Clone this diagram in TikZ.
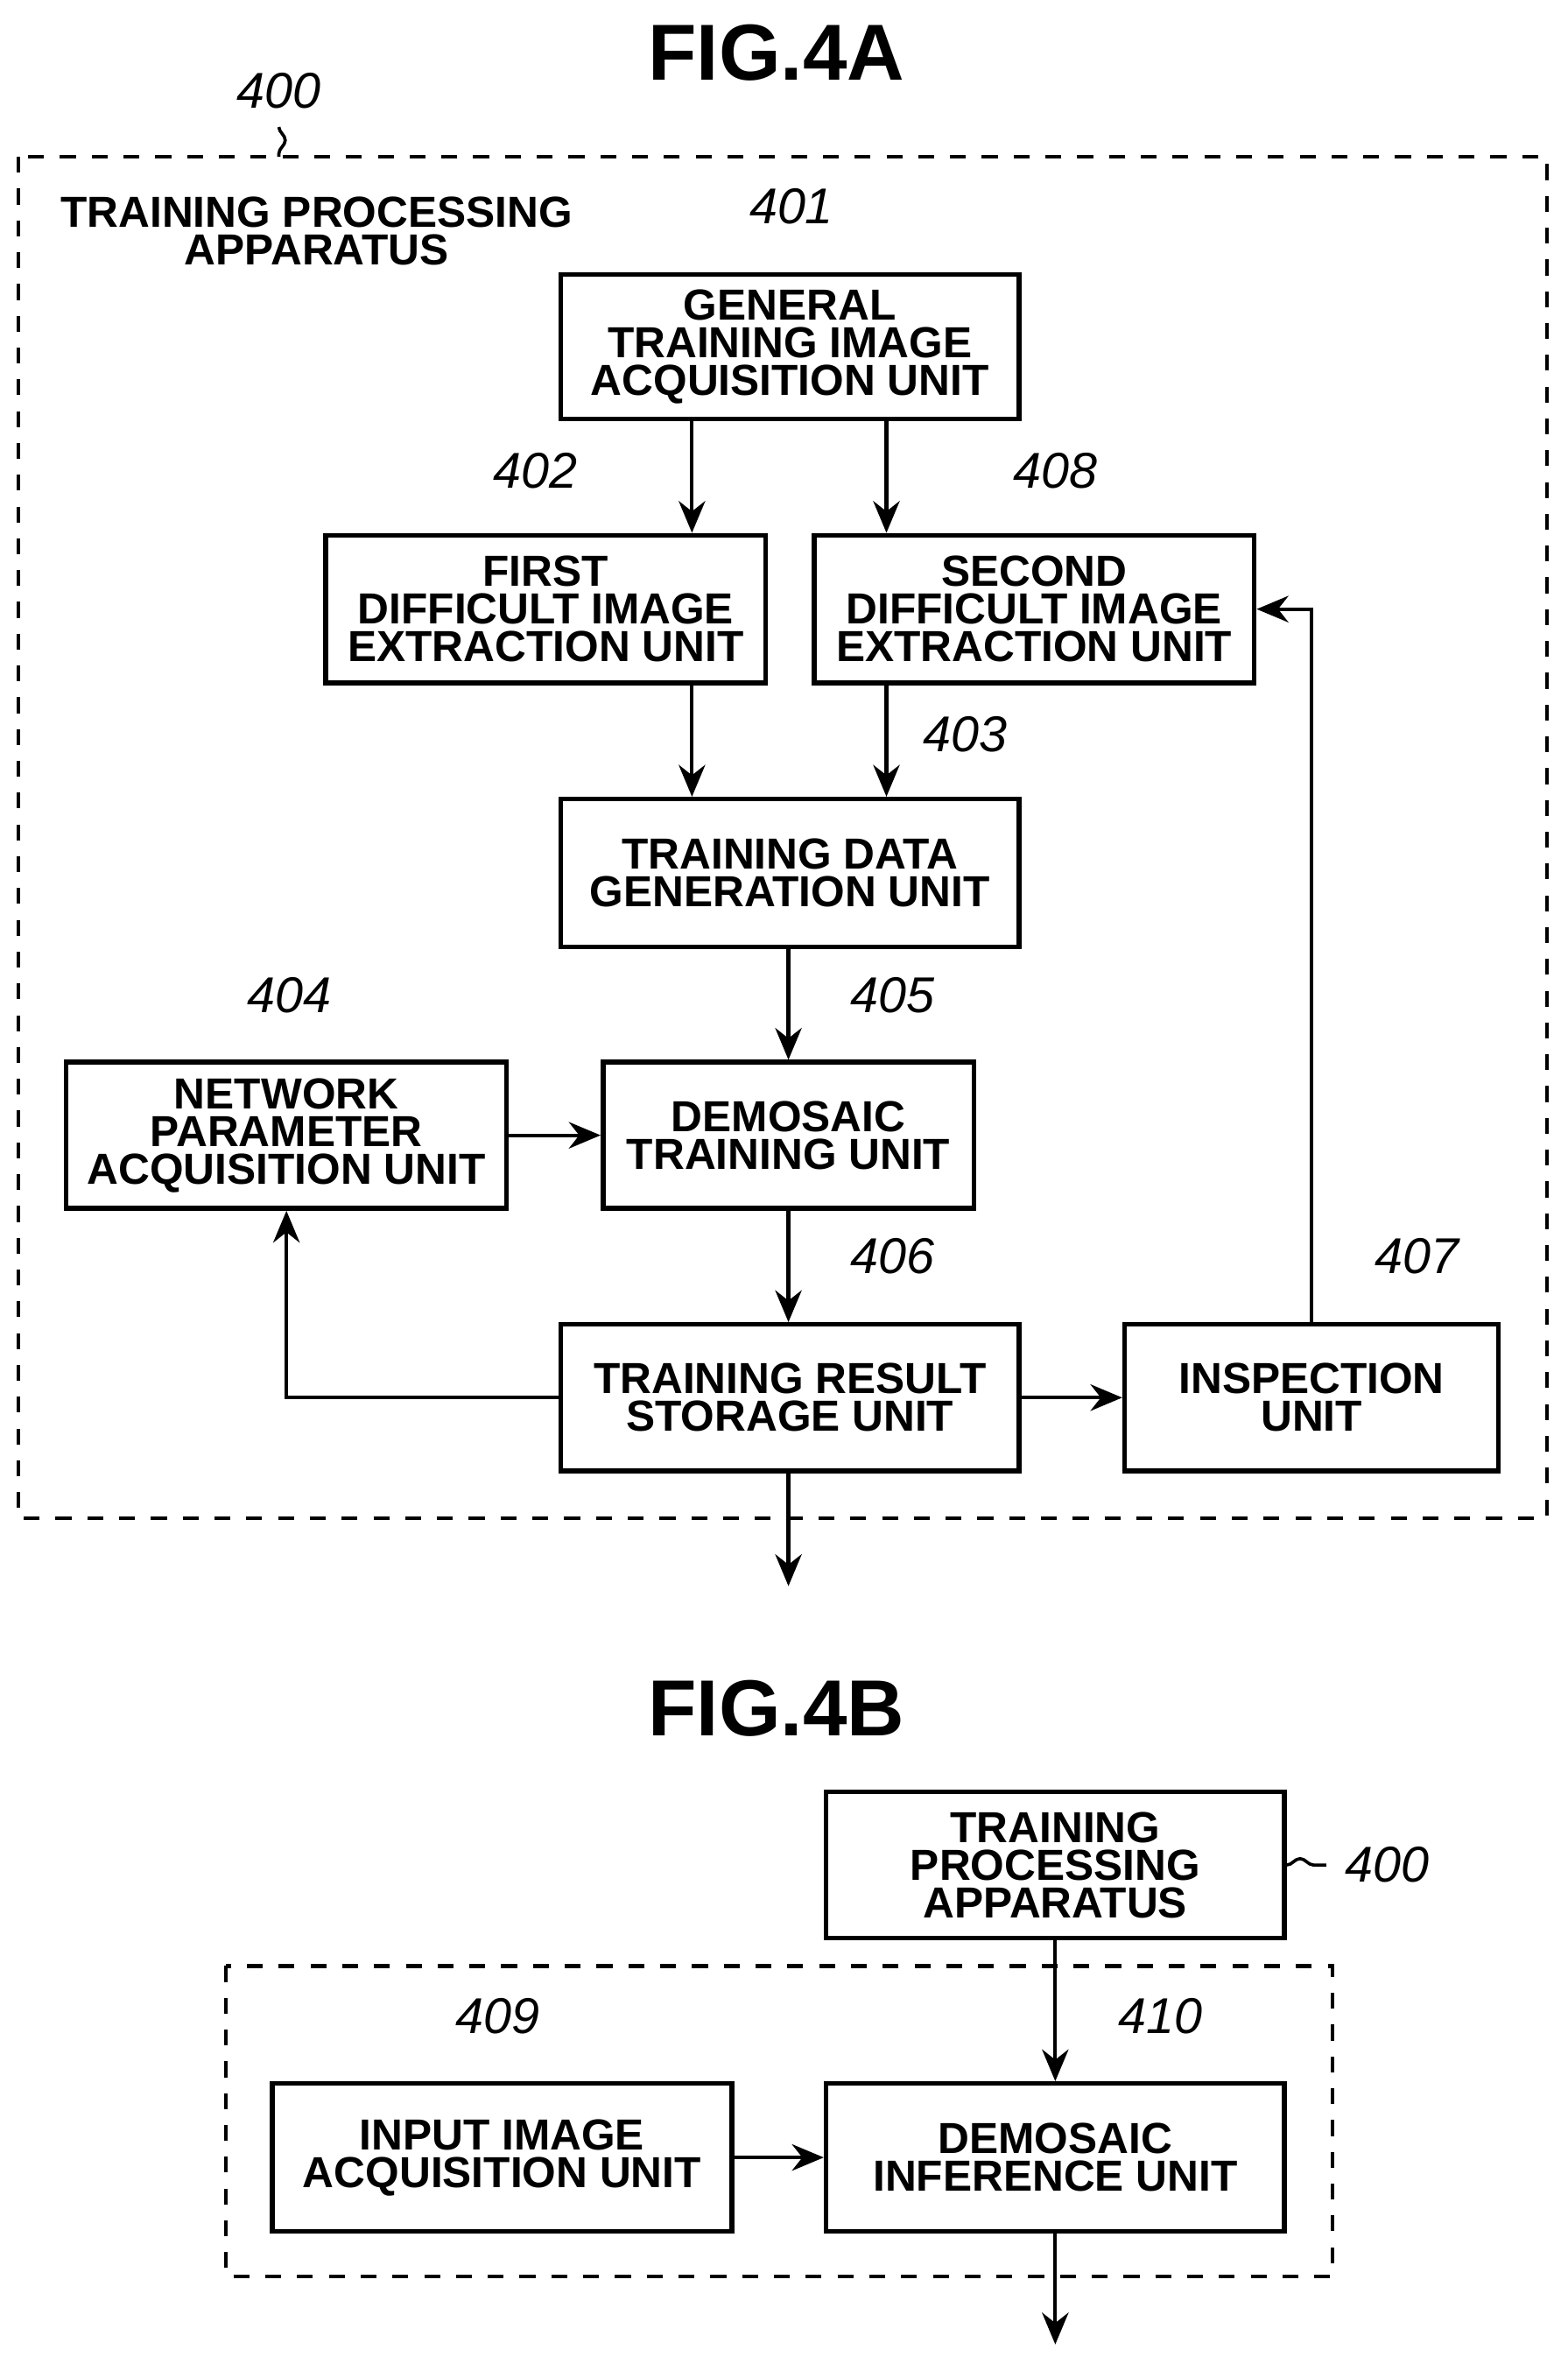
\documentclass[tikz,border=0pt]{standalone}
\usepackage{fontspec}
\setmainfont{Liberation Sans}
\usetikzlibrary{arrows.meta,decorations.pathmorphing}
\tikzset{
  unit/.style={draw,line width=0.9pt,font=\bfseries\fontsize{8.2}{7.1}\selectfont,align=center,inner sep=0pt},
  frame/.style={draw,dashed,line width=0.7pt},
  ref/.style={font=\itshape\fontsize{9.5}{10}\selectfont},
  fig/.style={font=\bfseries\fontsize{15}{16}\selectfont},
  flow/.style={-{Stealth[length=6pt,width=5pt]},line width=0.7pt},
  squig/.style={line width=0.6pt,decorate,decoration={snake,amplitude=1.2pt,segment length=8pt}},
}
\begin{document}
\begin{tikzpicture}[x=0.1mm,y=-0.1mm]
\useasboundingbox (0,0) rectangle (1040,1568);
% FIG.4A
\node[fig] (fa) at (515,35) {FIG.4A};
\draw[frame] (12,104) rectangle (1026,1007);
\node[ref] (r400) at (185,60) {400};
\coordinate (f400) at (185,104);
\draw[squig] (r400.south) -- (f400);
\node[font=\bfseries\fontsize{8.2}{7.1}\selectfont,align=center] (tpa) at (210,153) {TRAINING PROCESSING\\APPARATUS};
\node[unit,minimum width=30.4mm,minimum height=9.6mm] (u401) at (524,230) {GENERAL\\TRAINING IMAGE\\ACQUISITION UNIT};
\node[unit,minimum width=29.2mm,minimum height=9.8mm] (u402) at (362,404) {FIRST\\DIFFICULT IMAGE\\EXTRACTION UNIT};
\node[unit,minimum width=29.2mm,minimum height=9.8mm] (u408) at (686,404) {SECOND\\DIFFICULT IMAGE\\EXTRACTION UNIT};
\node[unit,minimum width=30.4mm,minimum height=9.8mm] (u403) at (524,579) {TRAINING DATA\\GENERATION UNIT};
\node[unit,minimum width=29.2mm,minimum height=9.7mm] (u404) at (190,753) {NETWORK\\PARAMETER\\ACQUISITION UNIT};
\node[unit,minimum width=24.6mm,minimum height=9.7mm] (u405) at (523,753) {DEMOSAIC\\TRAINING UNIT};
\node[unit,minimum width=30.4mm,minimum height=9.7mm] (u406) at (524,927) {TRAINING RESULT\\STORAGE UNIT};
\node[unit,minimum width=24.8mm,minimum height=9.7mm] (u407) at (870,927) {INSPECTION\\UNIT};
\node[ref] at (525,137) {401};
\node[ref] at (355,312) {402};
\node[ref] at (700,312) {408};
\node[ref] at (640,487) {403};
\node[ref] at (192,660) {404};
\node[ref] at (592,660) {405};
\node[ref] at (592,833) {406};
\node[ref] at (940,833) {407};
\coordinate (a1) at (459,0);
\coordinate (a2) at (588,0);
\draw[flow] (a1 |- u401.south) -- (a1 |- u402.north);
\draw[flow] (a2 |- u401.south) -- (a2 |- u408.north);
\draw[flow] (a1 |- u402.south) -- (a1 |- u403.north);
\draw[flow] (a2 |- u408.south) -- (a2 |- u403.north);
\draw[flow] (u403.south -| u405.north) -- (u405.north);
\draw[flow] (u404.east) -- (u405.west);
\draw[flow] (u405.south) -- (u405.south |- u406.north);
\draw[flow] (u406.west) -| (u404.south);
\draw[flow] (u406.east) -- (u407.west);
\draw[flow] (u407.north) |- (u408.east);
\coordinate (outA) at (523,1052);
\draw[flow] (u406.south -| outA) -- (outA);
% FIG.4B
\node[fig] (fb) at (515,1133) {FIG.4B};
\draw[frame] (150,1304) rectangle (884,1510);
\node[unit,minimum width=30.4mm,minimum height=9.7mm] (t400) at (700,1237) {TRAINING\\PROCESSING\\APPARATUS};
\node[ref] (r400b) at (920,1237) {400};
\draw[squig] (t400.east) -- (r400b.west);
\node[unit,minimum width=30.5mm,minimum height=9.8mm] (u409) at (333,1431) {INPUT IMAGE\\ACQUISITION UNIT};
\node[unit,minimum width=30.4mm,minimum height=9.8mm] (u410) at (700,1431) {DEMOSAIC\\INFERENCE UNIT};
\node[ref] at (330,1337) {409};
\node[ref] at (770,1337) {410};
\draw[flow] (t400.south) -- (u410.north);
\draw[flow] (u409.east) -- (u410.west);
\coordinate (outB) at (700,1555);
\draw[flow] (u410.south) -- (outB);
\end{tikzpicture}
\end{document}
